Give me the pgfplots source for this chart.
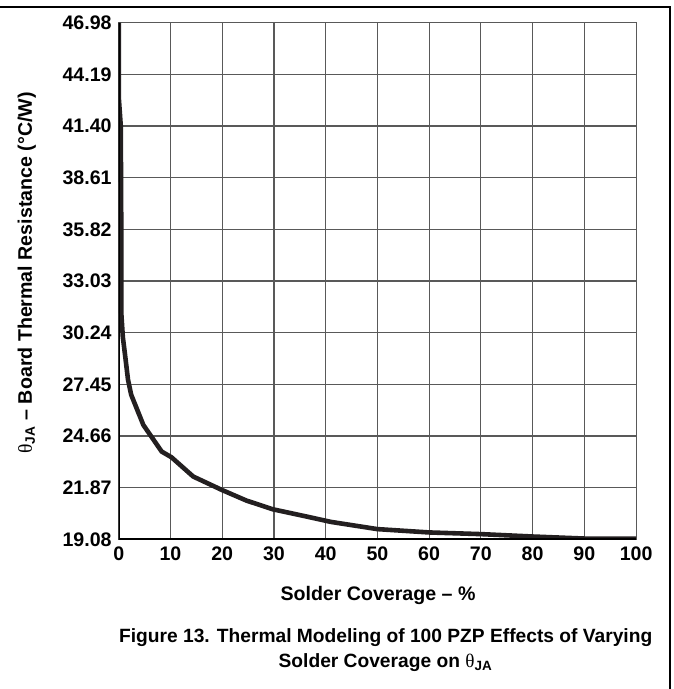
\documentclass[border=0pt]{standalone}
\usepackage{fontspec}
\setmainfont{Liberation Sans}
\newfontfamily\symfont{Liberation Serif}
\usepackage{pgfplots}
\usepackage{pgfplotstable}
\pgfplotsset{compat=1.18}
\definecolor{ink}{HTML}{231F20}

% solder coverage (%) vs board thermal resistance (C/W)
\pgfplotstableread{
x y
0 46.98
0 43.0
0.4 41.4
0.5 35.8
0.5 31.3
0.8 30.0
1.2 29.1
1.8 27.7
2.4 26.9
4.75 25.26
8.3 23.82
10.2 23.51
14.4 22.47
19.9 21.75
24.7 21.17
29.8 20.70
36.3 20.31
41 20.02
50 19.63
60 19.45
70 19.36
80 19.23
90 19.12
100 19.12
}\coverage

\newcommand{\lblfont}{\fontsize{9.8}{11}\selectfont\bfseries}

\begin{document}
\begin{tikzpicture}
\useasboundingbox (-59.35pt,-74.85pt) rectangle (277.15pt,269.65pt);
\begin{axis}[
    scale only axis,
    width=258.7pt, height=258.3pt,
    xmin=0, xmax=100, ymin=19.08, ymax=46.98,
    xtick={0,10,20,30,40,50,60,70,80,90,100},
    xticklabels={0,10,20,30,40,50,60,70,80,90,100},
    ytick={19.08,21.87,24.66,27.45,30.24,33.03,35.82,38.61,41.40,44.19,46.98},
    yticklabels={19.08,21.87,24.66,27.45,30.24,33.03,35.82,38.61,41.40,44.19,46.98},
    grid=major,
    major grid style={black!65, line width=0.6pt},
    axis line style={black!65, line width=0.6pt},
    major tick length=0pt,
    tick label style={font=\lblfont},
  ]
\addplot[ink, line width=2.3pt, line join=round] table {\coverage};
\draw[black, line width=1.5pt] (rel axis cs:0,1) -- (rel axis cs:0,0) -- (rel axis cs:1,0);
\end{axis}
\node[font=\lblfont] at (129.65pt,-28pt) {Solder Coverage – \%};
\node[font=\lblfont, rotate=90] at (-46pt,133.15pt)
  {{\mdseries\symfont θ}\textsubscript{JA} – Board Thermal Resistance (°C/W)};
\node[font=\fontsize{9.6}{12.5}\selectfont\bfseries, align=center] at (133.5pt,-55.6pt)
  {Figure 13. Thermal Modeling of 100 PZP Effects of Varying\\
   Solder Coverage on {\mdseries\symfont θ}\textsubscript{JA}};
\draw[black, line width=1pt] (-59.35pt,266.15pt) -- (275.65pt,266.15pt) -- (275.65pt,-74.85pt);
\end{tikzpicture}
\end{document}
